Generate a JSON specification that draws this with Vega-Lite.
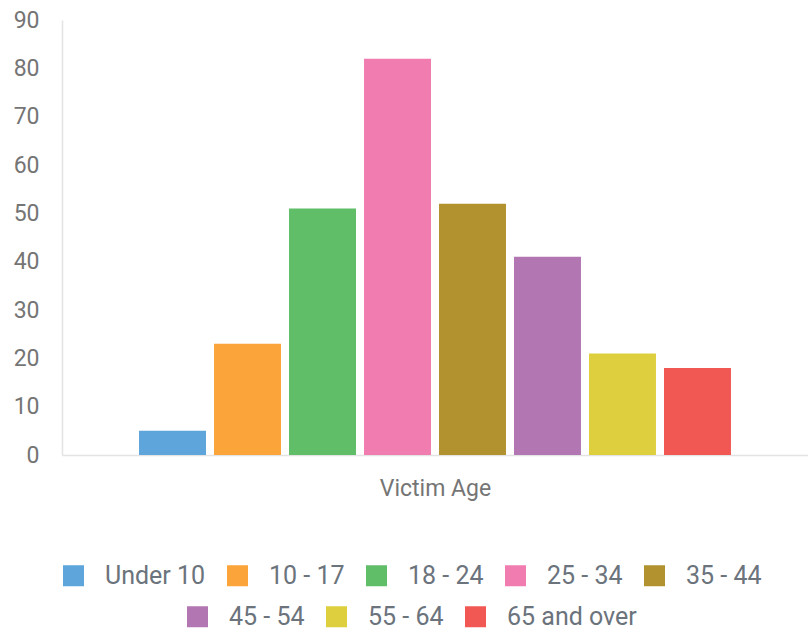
{
  "$schema": "https://vega.github.io/schema/vega-lite/v6.json",
  "width": 746,
  "height": 435,
  "autosize": "none",
  "padding": {"left": 62, "top": 20, "right": 0, "bottom": 187},
  "background": "white",
  "data": {
    "values": [
      {"axis": "Victim Age", "age": "Under 10", "count": 5},
      {"axis": "Victim Age", "age": "10 - 17", "count": 23},
      {"axis": "Victim Age", "age": "18 - 24", "count": 51},
      {"axis": "Victim Age", "age": "25 - 34", "count": 82},
      {"axis": "Victim Age", "age": "35 - 44", "count": 52},
      {"axis": "Victim Age", "age": "45 - 54", "count": 41},
      {"axis": "Victim Age", "age": "55 - 64", "count": 21},
      {"axis": "Victim Age", "age": "65 and over", "count": 18}
    ]
  },
  "encoding": {
    "x": {
      "field": "axis",
      "type": "nominal",
      "scale": {"paddingInner": 0, "paddingOuter": 0.1217},
      "axis": {
        "title": "Victim Age",
        "labels": false,
        "ticks": false,
        "domain": true,
        "domainColor": "#e3e3e3",
        "domainWidth": 1.5,
        "titleFont": "Roboto",
        "titleFontSize": 23,
        "titleFontWeight": "normal",
        "titleColor": "#757575",
        "titlePadding": 22
      }
    },
    "xOffset": {
      "field": "age",
      "type": "nominal",
      "sort": ["Under 10", "10 - 17", "18 - 24", "25 - 34", "35 - 44", "45 - 54", "55 - 64", "65 and over"],
      "scale": {
        "domain": ["Under 10", "10 - 17", "18 - 24", "25 - 34", "35 - 44", "45 - 54", "55 - 64", "65 and over"],
        "paddingInner": 0.107,
        "paddingOuter": 0.0535
      }
    },
    "y": {
      "field": "count",
      "type": "quantitative",
      "scale": {"domain": [0, 90], "nice": false},
      "axis": {
        "title": null,
        "values": [0, 10, 20, 30, 40, 50, 60, 70, 80, 90],
        "grid": false,
        "ticks": false,
        "domain": true,
        "domainColor": "#e3e3e3",
        "domainWidth": 1.5,
        "labelFont": "Roboto",
        "labelFontSize": 23,
        "labelColor": "#757575",
        "labelPadding": 23
      }
    }
  },
  "layer": [
    {
      "transform": [{"filter": {"field": "age", "oneOf": ["Under 10", "10 - 17", "18 - 24", "25 - 34", "35 - 44"]}}],
      "mark": {"type": "bar"},
      "encoding": {
        "color": {
          "field": "age",
          "type": "nominal",
          "scale": {
            "domain": ["Under 10", "10 - 17", "18 - 24", "25 - 34", "35 - 44"],
            "range": ["#5DA5DA", "#FAA43A", "#60BD68", "#F17CB0", "#B2912F"]
          },
          "legend": {"orient": "none", "direction": "horizontal", "title": null, "legendX": -1, "legendY": 543}
        }
      }
    },
    {
      "transform": [{"filter": {"field": "age", "oneOf": ["45 - 54", "55 - 64", "65 and over"]}}],
      "mark": {"type": "bar"},
      "encoding": {
        "color": {
          "field": "age",
          "type": "nominal",
          "scale": {
            "domain": ["45 - 54", "55 - 64", "65 and over"],
            "range": ["#B276B2", "#DECF3F", "#F15854"]
          },
          "legend": {"orient": "none", "direction": "horizontal", "title": null, "legendX": 123, "legendY": 584}
        }
      }
    }
  ],
  "resolve": {"scale": {"color": "independent"}, "legend": {"color": "independent"}},
  "config": {
    "view": {"stroke": null},
    "legend": {
      "symbolType": "square",
      "symbolSize": 441,
      "symbolStrokeWidth": 0,
      "symbolOpacity": 1,
      "labelFont": "Roboto",
      "labelFontSize": 25,
      "labelColor": "#6b737c",
      "labelOffset": 19,
      "columnPadding": 19
    }
  }
}
